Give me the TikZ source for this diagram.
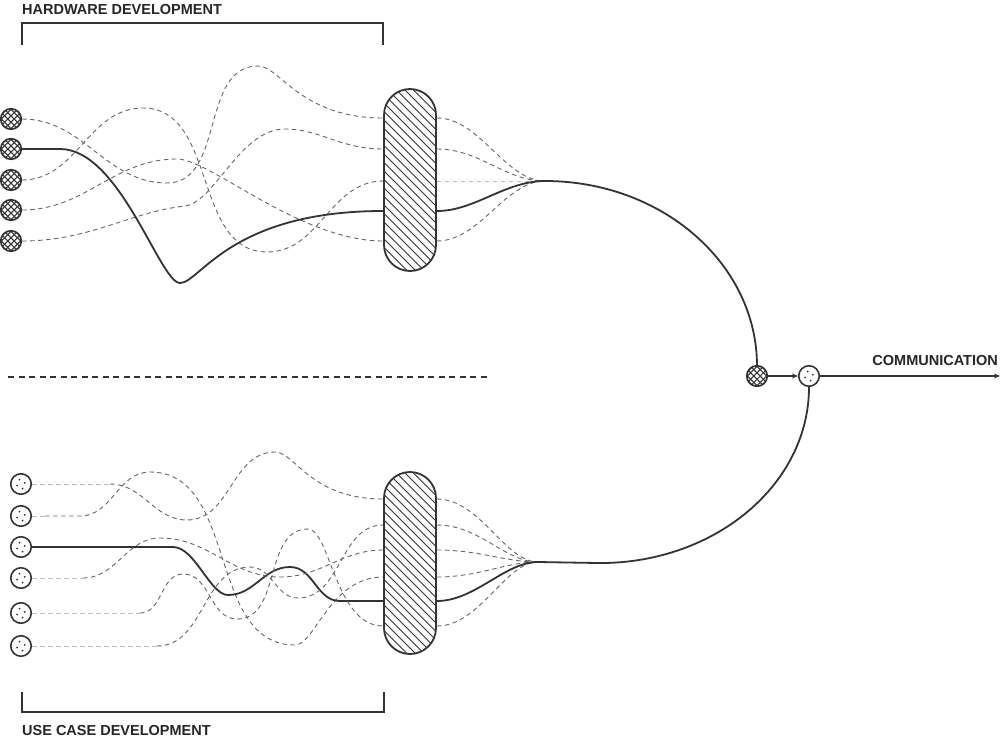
\documentclass[tikz,border=0pt]{standalone}
\usepackage{fontspec}
\newfontfamily\labfont{Liberation Sans}
\usetikzlibrary{arrows.meta,calc}
\definecolor{ink}{HTML}{333333}
\definecolor{dashc}{HTML}{666666}
\definecolor{lightc}{HTML}{BBBBBB}
\begin{document}
\begin{tikzpicture}[x=1pt,y=-1pt,
  solidline/.style={draw=ink,line width=1.8pt},
  dashline/.style={draw=dashc,line width=0.9pt,dash pattern=on 4.5pt off 3.5pt},
  lightline/.style={draw=lightc,line width=0.9pt,dash pattern=on 4.5pt off 3.5pt},
  hwdot/.style={circle,draw=ink,line width=1.7pt,fill=white,minimum size=20.5pt,inner sep=0pt,
    path picture={\foreach \d in {-9.6,-3.2,3.2,9.6}{
      \draw[ink,line width=1pt] ([shift={(\d-12,-12)}]path picture bounding box.center) -- ++(24,24);
      \draw[ink,line width=1pt] ([shift={(\d-12,12)}]path picture bounding box.center) -- ++(24,-24);}}},
  ucdot/.style={circle,draw=ink,line width=1.6pt,fill=white,minimum size=20.5pt,inner sep=0pt,
    path picture={
      \fill[ink] ([shift={(-1.5,-4.5)}]path picture bounding box.center) circle (1pt);
      \fill[ink] ([shift={(3.8,-1.2)}]path picture bounding box.center) circle (1pt);
      \fill[ink] ([shift={(-3.8,1.5)}]path picture bounding box.center) circle (1pt);
      \fill[ink] ([shift={(1.5,4.5)}]path picture bounding box.center) circle (1pt);}},
  pill/.style={rectangle,rounded corners=26pt,draw=ink,line width=1.8pt,fill=white,
    minimum width=52pt,minimum height=182pt,inner sep=0pt,
    path picture={\foreach \d in {-127.5,-119,...,127.5}{
      \draw[ink,line width=0.95pt] ([shift={(\d-100,-100)}]path picture bounding box.center) -- ++(200,200);}}},
  lab/.style={font=\labfont\bfseries\fontsize{14.5}{16}\selectfont,text=black!85,inner sep=0pt},
  arr/.style={draw=ink,line width=1.2pt,-{Stealth[length=6pt,width=5pt]}}
]
\useasboundingbox (0,0) rectangle (1001,739);

% labels and brackets
\node[lab,anchor=base west] (hwlab) at (22,14) {HARDWARE DEVELOPMENT};
\node[lab,anchor=base west] (uclab) at (22,735) {USE CASE DEVELOPMENT};
\node[lab,anchor=base east] (comlab) at (998,365) {COMMUNICATION};
\draw[ink,line width=1.4pt] (22,45) -- (22,23) -- (383,23) -- (383,45);
\draw[ink,line width=1.4pt] (22,692) -- (22,712) -- (384,712) -- (384,692);
\draw[ink,line width=1.1pt,dash pattern=on 6pt off 4.5pt] (8,377) -- (487,377);

% pills
\node[pill] (p1) at (410,180) {};
\node[pill] (p2) at (410,563) {};

% top circles
\node[hwdot] (h1) at (11,119) {};
\node[hwdot] (h2) at (11,149) {};
\node[hwdot] (h3) at (11,180) {};
\node[hwdot] (h4) at (11,210) {};
\node[hwdot] (h5) at (11,241) {};

% bottom circles
\node[ucdot] (k1) at (21,484) {};
\node[ucdot] (k2) at (21,516) {};
\node[ucdot] (k3) at (21,547) {};
\node[ucdot] (k4) at (21,578) {};
\node[ucdot] (k5) at (21,613) {};
\node[ucdot] (k6) at (21,646) {};

% communication circles
\node[hwdot] (hc) at (757,376) {};
\node[ucdot] (dc) at (809,376) {};

% row coordinates on pills
\foreach \n/\y in {1/118,2/149,3/181,4/211,5/241}{
  \coordinate (t\n) at (p1.west |- 0,\y);
  \coordinate (s\n) at (p1.east |- 0,\y);}
\foreach \n/\y in {1/499,2/525,3/550,4/577,5/601,6/626}{
  \coordinate (v\n) at (p2.west |- 0,\y);
  \coordinate (w\n) at (p2.east |- 0,\y);}
\coordinate (tc) at (545,181);
\coordinate (bc) at (538,562);
\coordinate (commend) at (1000,376);

% top tangle
\draw[dashline] (h1.east) to[out=0,in=180] (167,183) to[out=0,in=180] (258,66) .. controls (280,66) and (300,118) .. (t1);
\draw[dashline] (h3.east) to[out=0,in=180] (143,108) to[out=0,in=180] (267,252) to[out=0,in=180] (t3);
\draw[dashline] (h4.east) to[out=0,in=180] (177,159) .. controls (210,159) and (300,241) .. (t5);
\draw[dashline] (h5.east) .. controls (90,241) and (130,212) .. (185,206) .. controls (215,202) and (240,129) .. (285,129) .. controls (320,129) and (340,149) .. (t2);
\draw[solidline] (h2.east) -- (60,149) .. controls (120,149) and (160,283) .. (180,283) .. controls (200,283) and (230,211) .. (t4);

% top fan
\draw[dashline] (s1) .. controls (480,118) and (505,181) .. (tc);
\draw[dashline] (s2) .. controls (480,149) and (505,181) .. (tc);
\draw[lightline] (s3) -- (tc);
\draw[dashline] (s5) .. controls (480,241) and (505,181) .. (tc);
\draw[solidline] (s4) .. controls (475,211) and (505,181) .. (tc)
  arc[start angle=-90,end angle=0,x radius=212,y radius=185];

% bottom tangle
\draw[lightline] (k1.east) -- (110,484) coordinate (k1a);
\draw[dashline] (k1a) to[out=0,in=180] (187,520) to[out=0,in=180] (275,452) .. controls (295,452) and (310,499) .. (v1);
\draw[lightline] (k2.east) -- (45,516) coordinate (k2a);
\draw[dashline] (k2a) -- (80,516) to[out=0,in=180] (150,472) to[out=0,in=180] (295,645) .. controls (315,645) and (330,577) .. (v4);
\draw[solidline] (k3.east) -- (173,547) .. controls (195,547) and (210,595) .. (228,595) to[out=0,in=180] (290,567) to[out=0,in=180] (340,601) -- (v5);
\draw[lightline] (k4.east) -- (83,578) coordinate (k4a);
\draw[dashline] (k4a) to[out=0,in=180] (160,538) to[out=0,in=180] (280,577) to[out=0,in=180] (v3);
\draw[lightline] (k5.east) -- (140,613) coordinate (k5a);
\draw[dashline] (k5a) to[out=0,in=180] (183,574) to[out=0,in=180] (237,619) to[out=0,in=180] (308,529) .. controls (330,529) and (335,626) .. (v6);
\draw[lightline] (k6.east) -- (157,646) coordinate (k6a);
\draw[dashline] (k6a) to[out=0,in=180] (250,567) to[out=0,in=180] (298,598) to[out=0,in=180] (v2);

% bottom fan
\foreach \n/\y in {1/499,2/525,3/550,4/577,6/626}{
  \draw[dashline] (w\n) .. controls (480,\y) and (505,562) .. (bc);}
\draw[solidline] (w5) .. controls (475,601) and (505,562) .. (bc);
\draw[solidline] (dc.south) arc[start angle=0,end angle=90,x radius=209,y radius=176] -- (bc);

% communication arrows
\draw[arr] (hc.east) -- (dc.west);
\draw[arr] (dc.east) -- (commend);
\end{tikzpicture}
\end{document}
